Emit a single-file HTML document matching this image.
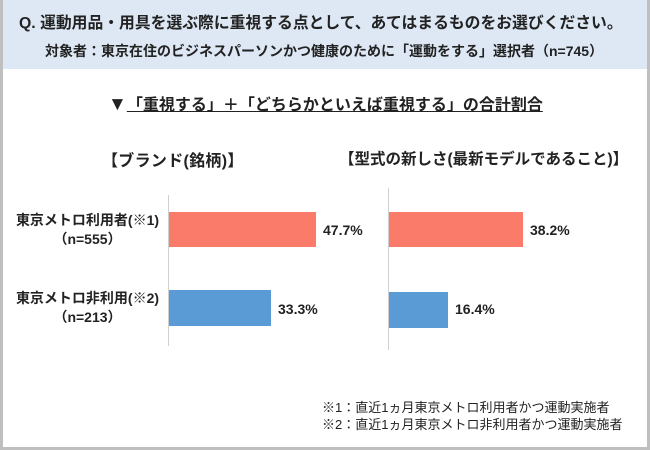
<!DOCTYPE html>
<html><head><meta charset="utf-8"><style>
*{margin:0;padding:0;box-sizing:border-box}
body{width:650px;height:450px;background:#fff;font-family:"Liberation Sans","Noto Sans CJK JP",sans-serif;color:#222;position:relative;overflow:hidden}
.frame{position:absolute;left:0;top:0;width:650px;height:450px;border:3px solid #bfbfbf;border-top:none}
.hdr{position:absolute;left:3px;top:0;width:644px;height:69px;background:#dde8f4}
.t{position:absolute;white-space:nowrap;font-weight:bold}
.bar{position:absolute}
.ax{position:absolute;width:1px;background:#d0d0d0}
</style></head><body>
<div class="hdr"></div>
<div class="frame"></div>
<div class="t" style="left:19px;top:10px;font-size:15.8px">Q. 運動用品・用具を選ぶ際に重視する点として、あてはまるものをお選びください。</div>
<div class="t" style="left:45px;top:41px;font-size:14px">対象者：東京在住のビジネスパーソンかつ健康のために「運動をする」選択者（n=745）</div>
<div class="t" style="left:108px;top:91px;font-size:16px"><span style="font-size:19px">▼</span><span style="text-decoration:underline">「重視する」＋「どちらかといえば重視する」の合計割合</span></div>
<div class="t" style="left:102px;top:147px;font-size:16px;letter-spacing:0.3px">【ブランド(銘柄)】</div>
<div class="t" style="left:339px;top:147px;font-size:15.5px">【型式の新しさ(最新モデルであること)】</div>
<div class="ax" style="left:168px;top:195px;height:151px"></div>
<div class="ax" style="left:388px;top:188px;height:162px"></div>
<div class="bar" style="left:169px;top:212px;width:147px;height:35px;background:#fa7b6a"></div>
<div class="bar" style="left:389px;top:212px;width:134px;height:35px;background:#fa7b6a"></div>
<div class="bar" style="left:169px;top:290px;width:102px;height:36px;background:#5b9bd5"></div>
<div class="bar" style="left:389px;top:292px;width:59px;height:36px;background:#5b9bd5"></div>
<div class="t" style="left:323px;top:222px;font-size:14px">47.7%</div>
<div class="t" style="left:530px;top:222px;font-size:14px">38.2%</div>
<div class="t" style="left:278px;top:301px;font-size:14px">33.3%</div>
<div class="t" style="left:455px;top:301px;font-size:14px">16.4%</div>
<div class="t" style="left:10px;top:211px;font-size:14px;text-align:center;width:155px;line-height:19px">東京メトロ利用者(※1)<br>（n=555）</div>
<div class="t" style="left:10px;top:289px;font-size:14px;text-align:center;width:155px;line-height:19px">東京メトロ非利用(※2)<br>（n=213）</div>
<div class="t" style="left:322px;top:399px;font-size:13px;line-height:17px;font-weight:normal">※1：直近1ヵ月東京メトロ利用者かつ運動実施者<br>※2：直近1ヵ月東京メトロ非利用者かつ運動実施者</div>
</body></html>
